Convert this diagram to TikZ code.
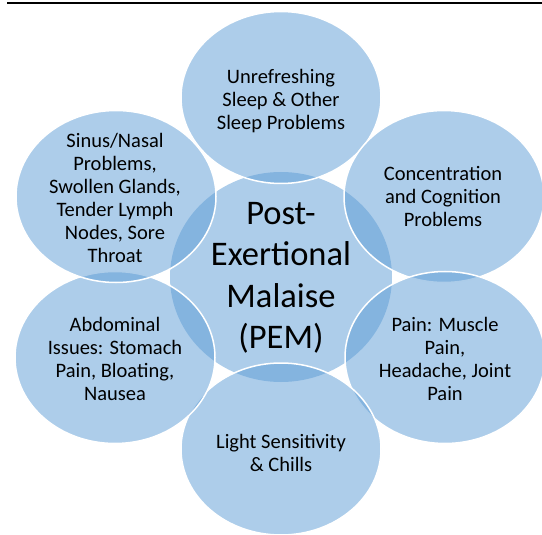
\documentclass[tikz,border=0pt]{standalone}
\usepackage{fontspec}
\setmainfont{Carlito}
\usetikzlibrary{shapes.geometric}
\definecolor{accent}{HTML}{5B9BD5}
\tikzset{
  blob/.style={ellipse, fill=accent, fill opacity=0.5, inner sep=0pt},
  outerblob/.style={blob, draw=white, line width=1.5pt, minimum width=200pt, minimum height=172pt},
  centerblob/.style={blob, minimum width=222pt, minimum height=210pt},
  smalltxt/.style={align=center, font=\fontsize{20.5}{23}\selectfont, text=black, inner sep=0pt},
  bigtxt/.style={align=center, font=\fontsize{34.5}{41.5}\selectfont, text=black, inner sep=0pt}
}
\begin{document}
\begin{tikzpicture}[x=1pt,y=-1pt]
\useasboundingbox (0,0) rectangle (542,535);
\coordinate (ruleL) at (7,2.7);
\coordinate (ruleR) at (542,2.7);
\draw[line width=2.3pt] (ruleL) -- (ruleR);
\node[centerblob] (pem) at (281,277) {};
\node[outerblob] (sleep) at (281,97.5) {};
\node[outerblob] (cog) at (444,196.5) {};
\node[outerblob] (pain) at (445,357.5) {};
\node[outerblob] (light) at (281,449) {};
\node[outerblob] (abd) at (115,357.5) {};
\node[outerblob] (sinus) at (116,196.5) {};
\node[bigtxt] (pemt) at (281,278) {Post-\\Exertional\\Malaise\\(PEM)};
\node[smalltxt] (sleept) at (281,101) {Unrefreshing\\Sleep \& Other\\Sleep Problems};
\node[smalltxt] (cogt) at (443,196.5) {Concentration\\and Cognition\\Problems};
\node[smalltxt] (paint) at (445,358.5) {Pain: Muscle\\Pain,\\Headache, Joint\\Pain};
\node[smalltxt] (lightt) at (281,452.5) {Light Sensitivity\\\& Chills};
\node[smalltxt] (abdt) at (115,358.5) {Abdominal\\Issues: Stomach\\Pain, Bloating,\\Nausea};
\node[smalltxt] (sinust) at (115,197.5) {Sinus/Nasal\\Problems,\\Swollen Glands,\\Tender Lymph\\Nodes, Sore\\Throat};
\end{tikzpicture}
\end{document}
